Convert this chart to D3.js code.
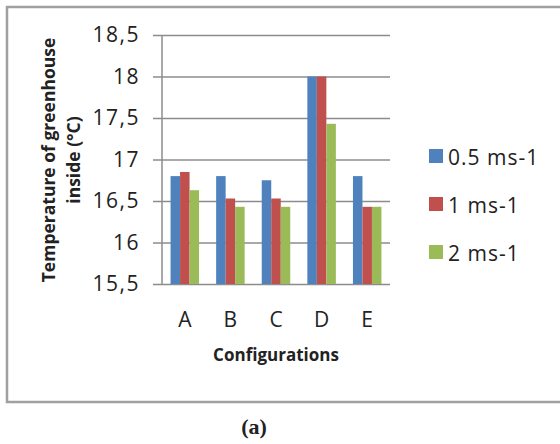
<!DOCTYPE html>
<html>
<head>
<meta charset="utf-8">
<script src="https://cdn.jsdelivr.net/npm/d3@7"></script>
<style>
  body { margin: 0; background: #fff; }
  text { font-family: "Open Sans", sans-serif; fill: #222; }
</style>
</head>
<body>
<div id="chart"></div>
<script>
// data
const configs = ['A', 'B', 'C', 'D', 'E']
const seriesNames = ['0.5 ms-1', '1 ms-1', '2 ms-1']
const v05 = [16.8, 16.8, 16.75, 18.0, 16.8]
const v1 = [16.85, 16.53, 16.53, 18.0, 16.43]
const v2 = [16.63, 16.43, 16.43, 17.43, 16.43]
const yTicks = [15.5, 16, 16.5, 17, 17.5, 18, 18.5]
const colors = ['#4F81BD', '#C0504D', '#9BBB59']

const allSeries = [v05, v1, v2]

const width = 560, height = 444
const plot = { left: 162, right: 390, top: 35, bottom: 284 }

const svg = d3.select('#chart').append('svg')
    .attr('width', width)
    .attr('height', height)

// outer frame
svg.append('rect')
    .attr('x', 7).attr('y', 7)
    .attr('width', 570).attr('height', 395)
    .attr('fill', 'none')
    .attr('stroke', '#a0a0a0')
    .attr('stroke-width', 2.5)

const x = d3.scaleBand().domain(configs).range([plot.left, plot.right])
const groupW = 28.5
const x1 = d3.scaleBand().domain(seriesNames)
    .range([(x.bandwidth() - groupW) / 2, (x.bandwidth() + groupW) / 2])
const y = d3.scaleLinear().domain([15.5, 18.5]).range([plot.bottom, plot.top])

// y axis with gridlines
const yAxis = d3.axisLeft(y)
    .tickValues(yTicks)
    .tickSize(-(plot.right - plot.left))
    .tickPadding(22)
    .tickFormat(d => String(d).replace('.', ','))

const gy = svg.append('g')
    .attr('transform', 'translate(' + plot.left + ',0)')
    .call(yAxis)
gy.select('.domain').remove()
gy.selectAll('.tick line')
    .attr('x1', -9)
    .attr('stroke', '#8c8c8c')
    .attr('stroke-width', 1.5)
gy.selectAll('.tick text')
    .style('font-size', '21px')
    .style('letter-spacing', '1.5px')
    .attr('fill', '#222')

// vertical axis line
svg.append('line')
    .attr('x1', plot.left).attr('x2', plot.left)
    .attr('y1', plot.top).attr('y2', plot.bottom)
    .attr('stroke', '#8c8c8c')
    .attr('stroke-width', 1.5)

// bars
configs.forEach((c, i) => {
    seriesNames.forEach((s, j) => {
        svg.append('rect')
            .attr('x', x(c) + x1(s))
            .attr('y', y(allSeries[j][i]))
            .attr('width', x1.bandwidth())
            .attr('height', y(15.5) - y(allSeries[j][i]))
            .attr('fill', colors[j])
    })
})

// x labels
const xAxis = d3.axisBottom(x).tickSize(0).tickPadding(43)
const gx = svg.append('g')
    .attr('transform', 'translate(0,' + plot.bottom + ')')
    .call(xAxis)
gx.select('.domain').remove()
gx.selectAll('.tick text')
    .style('font-size', '21px')
    .attr('fill', '#222')
    .attr('dy', 0)

// axis titles
svg.append('text')
    .attr('x', 276)
    .attr('y', 361)
    .attr('text-anchor', 'middle')
    .style('font-size', '17px')
    .style('font-weight', 'bold')
    .text('Configurations')

const yt = svg.append('text')
    .attr('transform', 'translate(55,160) rotate(-90)')
    .attr('text-anchor', 'middle')
    .style('font-size', '17.5px')
    .style('font-weight', 'bold')
yt.append('tspan').attr('x', 0).attr('y', 0).text('Temperature of greenhouse')
yt.append('tspan').attr('x', 0).attr('y', 25).text('inside (°C)')

// legend
seriesNames.forEach((s, j) => {
    const ly = 149 + j * 48
    svg.append('rect')
        .attr('x', 429).attr('y', ly)
        .attr('width', 14).attr('height', 14)
        .attr('fill', colors[j])
    svg.append('text')
        .attr('x', 448).attr('y', ly + 15.5)
        .style('font-size', '21px')
        .style('letter-spacing', '1px')
        .text(s)
})

// panel label
svg.append('text')
    .attr('x', 254).attr('y', 434)
    .attr('text-anchor', 'middle')
    .style('font-family', '"Liberation Serif", serif')
    .style('font-size', '22px')
    .style('font-weight', 'bold')
    .text('(a)')
</script>
</body>
</html>
